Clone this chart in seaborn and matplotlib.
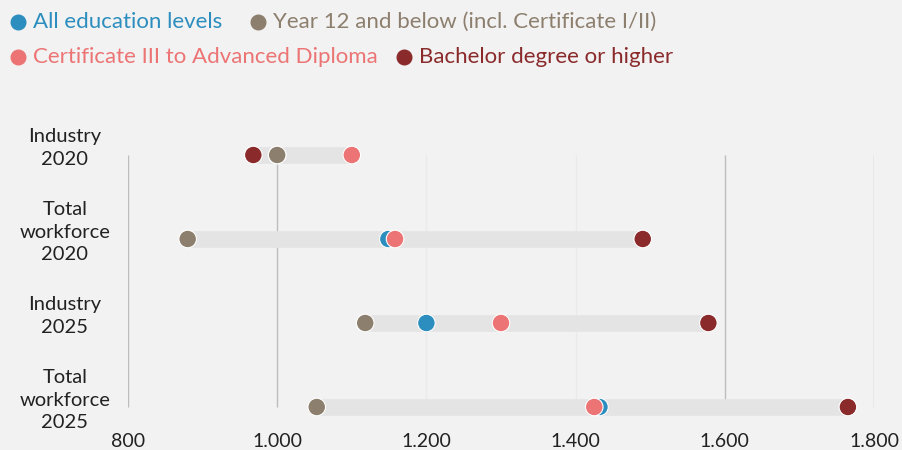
import matplotlib
matplotlib.use("Agg")
import matplotlib.pyplot as plt
import seaborn as sns
import pandas as pd
from matplotlib.ticker import FuncFormatter

rows = ["Industry\n2020", "Total\nworkforce\n2020", "Industry\n2025", "Total\nworkforce\n2025"]
series = ["All education levels", "Year 12 and below (incl. Certificate I/II)",
          "Certificate III to Advanced Diploma", "Bachelor degree or higher"]
all_levels = [1000, 1149, 1200, 1432]
year12 = [1000, 880, 1118, 1053]
cert3 = [1100, 1158, 1300, 1425]
bachelor = [968, 1490, 1578, 1765]
xticks = [800, 1000, 1200, 1400, 1600, 1800]

colors = ["#2C8EBE", "#8D7F6E", "#EC7474", "#8A2A2B"]
bg = "#F2F2F2"

sns.set_theme(style="white")
plt.rcParams["font.family"] = ["Lato", "DejaVu Sans"]

records = []
for s, vals in zip(series, [all_levels, year12, cert3, bachelor]):
    for i, v in enumerate(vals):
        records.append({"row": i, "series": s, "value": v})
df = pd.DataFrame(records)

fig = plt.figure(figsize=(9.02, 4.5), dpi=100, facecolor=bg)
W, H = 902, 450
x0, x1 = 128, 874
ytop, ybot = 135, 427
ax = fig.add_axes([x0 / W, 1 - ybot / H, (x1 - x0) / W, (ybot - ytop) / H])
ax.set_facecolor(bg)

pad = 20 * 3 / 252
ax.set_xlim(800, 1800)
ax.set_ylim(3 + pad, -pad)

# gridlines
for t in xticks:
    c = "#EAEAEA" if t in (1200, 1400) else "#BDBDBD"
    ax.vlines(t, 0, 3, color=c, lw=1, zorder=0)

# bands
g = df.groupby("row")["value"]
ax.hlines(g.min().index, g.min().values, g.max().values, color="#E4E4E4", lw=12, zorder=1)

sns.scatterplot(data=df, x="value", y="row", hue="series", palette=colors,
                hue_order=series, s=160, edgecolor="white", linewidth=0.8,
                ax=ax, legend=False, zorder=3, clip_on=False)

for sp in ax.spines.values():
    sp.set_visible(False)
ax.set_xlabel("")
ax.set_ylabel("")
ax.set_xticks(xticks)
ax.xaxis.set_major_formatter(FuncFormatter(lambda v, p: f"{int(v):,}".replace(",", ".")))
ax.tick_params(axis="x", length=0, labelsize=14, labelcolor="#222222", pad=4)
ax.set_yticks([])

# y labels
for i, lab in enumerate(rows):
    ypix = ytop + 20 + i * 84 - 7
    fig.text(65 / W, 1 - ypix / H, lab, ha="center", va="center", fontsize=14.5,
             color="#222222", linespacing=1.4)

# legend
leg = [(18, 22, 0), (258, 22, 1), (18, 57, 2), (404, 57, 3)]
for lx, ly, k in leg:
    fig.lines.append(plt.Line2D([lx / W], [1 - ly / H], marker="o", markersize=10.5,
                                color=colors[k], markeredgecolor=colors[k],
                                transform=fig.transFigure, linestyle="none"))
    fig.text((lx + 15) / W, 1 - ly / H, series[k], ha="left", va="center",
             fontsize=16, color=colors[k])

fig.savefig("out.png", dpi=100, facecolor=bg)
